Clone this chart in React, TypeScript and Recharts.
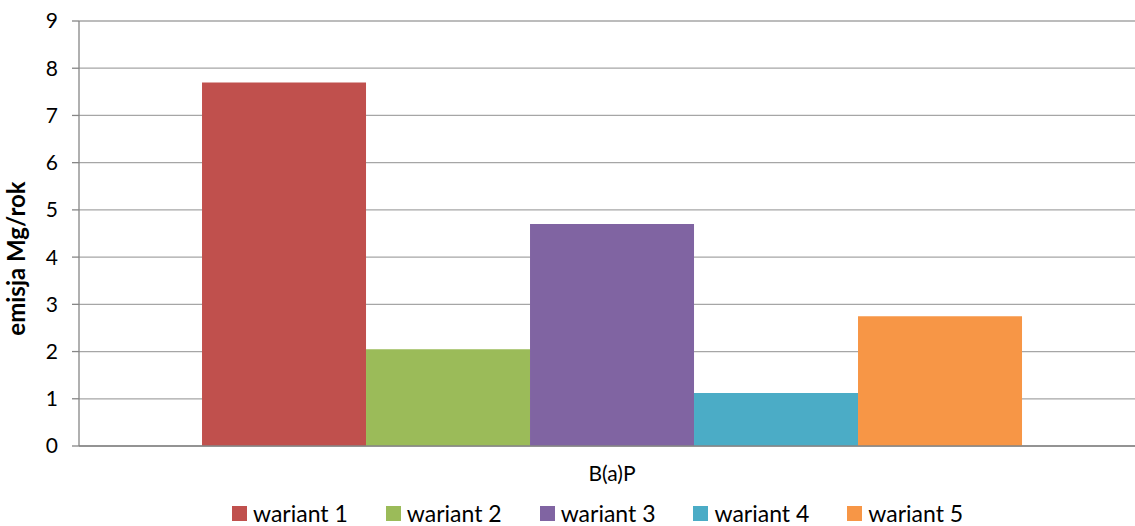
import React from 'react';
import { BarChart, Bar, XAxis, YAxis, CartesianGrid, Legend } from 'recharts';

const categories = ['B(a)P'];
const seriesNames = ['wariant 1', 'wariant 2', 'wariant 3', 'wariant 4', 'wariant 5'];
const seriesValues = [7.7, 2.05, 4.7, 1.12, 2.75];
const yTicks = [0, 1, 2, 3, 4, 5, 6, 7, 8, 9];
const yTitle = 'emisja Mg/rok';

const COLORS = ['#C0504D', '#9BBB59', '#8064A2', '#4BACC6', '#F79646'];
const FONT = 'Lato, "Open Sans", sans-serif';

const chartData = categories.map((cat) => {
  const row: Record<string, string | number> = { name: cat };
  seriesNames.forEach((s, i) => {
    row[s] = seriesValues[i];
  });
  return row;
});

function LegendContent() {
  return (
    <div
      style={{
        display: 'flex',
        justifyContent: 'flex-start',
        gap: 38,
        fontFamily: FONT,
        fontSize: 23,
        lineHeight: '22px',
        color: '#000',
        paddingLeft: 232,
        paddingTop: 16,
      }}
    >
      {seriesNames.map((s, i) => (
        <div key={s} style={{ display: 'flex', alignItems: 'center' }}>
          <span
            style={{
              width: 15,
              height: 15,
              background: COLORS[i],
              display: 'inline-block',
              marginRight: 6,
            }}
          />
          <span>{s}</span>
        </div>
      ))}
    </div>
  );
}

function YTitle(props: any) {
  const vb = props.viewBox || { x: 0, y: 0, width: 0, height: 0 };
  const x = 25;
  const y = vb.y + vb.height / 2 + 25;
  return (
    <text
      x={x}
      y={y}
      transform={`rotate(-90, ${x}, ${y})`}
      textAnchor="middle"
      fontFamily={FONT}
      fontSize={24}
      fontWeight="bold"
      fill="#000"
    >
      {yTitle}
    </text>
  );
}

export default function App() {
  return (
    <div
      style={{
        position: 'absolute',
        left: 0,
        top: 0,
        width: 1135,
        height: 526,
        overflow: 'hidden',
        background: '#fff',
      }}
    >
      <BarChart
        width={1145}
        height={526}
        data={chartData}
        margin={{ top: 21, right: 0, left: 0, bottom: 0 }}
        barCategoryGap="11.54%"
        barGap={0}
      >
        <CartesianGrid vertical={false} stroke="#A6A6A6" strokeWidth={1.3} />
        <XAxis
          dataKey="name"
          tickLine={false}
          axisLine={{ stroke: '#868686', strokeWidth: 1.3 }}
          tick={{ fill: '#000', fontSize: 21, fontFamily: FONT }}
          tickMargin={14}
          height={40}
        />
        <YAxis
          domain={[0, 9]}
          ticks={yTicks}
          interval={0}
          width={79}
          tickSize={7}
          tickMargin={14}
          tickLine={{ stroke: '#868686', strokeWidth: 1.3 }}
          axisLine={{ stroke: '#868686', strokeWidth: 1.3 }}
          tick={{ fill: '#000', fontSize: 21, fontFamily: FONT }}
          label={<YTitle />}
        />
        <Legend verticalAlign="bottom" height={40} content={<LegendContent />} />
        {seriesNames.map((s, i) => (
          <Bar key={s} dataKey={s} fill={COLORS[i]} isAnimationActive={false} />
        ))}
      </BarChart>
    </div>
  );
}
